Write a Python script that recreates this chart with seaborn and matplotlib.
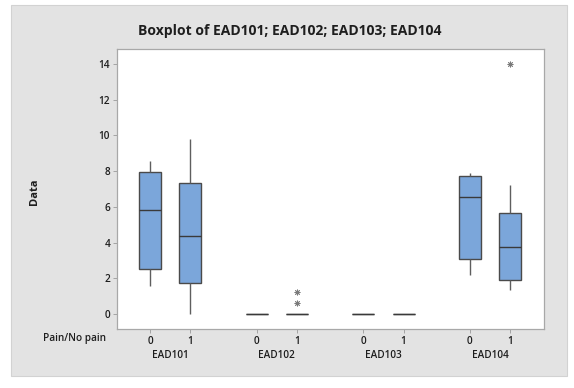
import matplotlib
matplotlib.use("Agg")
import matplotlib.pyplot as plt
from matplotlib.patches import Rectangle
import numpy as np
import pandas as pd
import seaborn as sns

# Measurements and pain groups
variables = ["EAD101", "EAD102", "EAD103", "EAD104"]
pain_levels = [0, 1]

# Five-number summaries for each box, ordered variable by variable, group 0 then 1
whisker_low = [1.55, 0.00, 0.0, 0.0, 0.0, 0.0, 2.17, 1.35]
q1 = [2.52, 1.75, 0.0, 0.0, 0.0, 0.0, 3.07, 1.91]
median = [5.82, 4.35, 0.0, 0.0, 0.0, 0.0, 6.57, 3.77]
q3 = [7.98, 7.35, 0.0, 0.0, 0.0, 0.0, 7.73, 5.64]
whisker_high = [8.58, 9.80, 0.0, 0.0, 0.0, 0.0, 7.88, 7.23]

# Outlying observations: (variable, pain group, value)
outlier_var = ["EAD102", "EAD102", "EAD104"]
outlier_pain = [1, 1, 1]
outlier_value = [0.60, 1.25, 14.0]

group_gap = 2.64  # spacing between variable blocks on the x axis


def xpos(var, pain):
    return variables.index(var) * group_gap + pain


rows = []
i = 0
for var in variables:
    for p in pain_levels:
        for v in (whisker_low[i], q1[i], median[i], q3[i], whisker_high[i]):
            rows.append({"variable": var, "pain": p, "x": xpos(var, p), "value": v})
        i += 1
df = pd.DataFrame(rows)
out_df = pd.DataFrame({
    "x": [xpos(v, p) for v, p in zip(outlier_var, outlier_pain)],
    "value": outlier_value,
})

sns.set_theme(style="white")
plt.rcParams["font.family"] = ["Open Sans", "DejaVu Sans"]

fig = plt.figure(figsize=(5.74, 3.88), dpi=100, facecolor="white")
fig.patches.append(Rectangle((11 / 574, 1 - 376 / 388), 556 / 574, 371 / 388,
                             transform=fig.transFigure, facecolor="#E3E3E3",
                             edgecolor="#D2D2D2", linewidth=0.8, zorder=-10))

ax = fig.add_axes([117 / 574, 1 - 329 / 388, 427 / 574, 280 / 388])
ax.set_facecolor("white")

edge = "#4A4A4A"
sns.boxplot(data=df, x="x", y="value", native_scale=True, width=0.545,
            color="#7BA6DA", saturation=1, linecolor=edge, linewidth=1.0,
            showfliers=False, whis=10, ax=ax,
            whiskerprops=dict(color="#5E5E5E", linewidth=1.0),
            capprops=dict(linewidth=0),
            medianprops=dict(color="#3A3A3A", linewidth=1.0))

sns.scatterplot(data=out_df, x="x", y="value", marker=(8, 2, 0), s=14,
                color="#7A7A7A", linewidth=0.6, edgecolor="#7A7A7A", ax=ax,
                legend=False, zorder=5)

ax.set_xlim(-0.82, 3 * group_gap + 1 + 0.84)
ax.set_ylim(-0.84, 14.84)
ax.set_yticks([0, 2, 4, 6, 8, 10, 12, 14])
ax.set_yticklabels([str(t) for t in [0, 2, 4, 6, 8, 10, 12, 14]])

xt = [xpos(v, p) for v in variables for p in pain_levels]
ax.set_xticks(xt)
ax.set_xticklabels([str(p) for v in variables for p in pain_levels])
ax.set_xlabel("")
ax.set_ylabel("")

ax.tick_params(axis="both", which="both", length=3, width=0.6, color="#9A9A9A",
               labelsize=7.2, labelcolor="#1E1E1E", pad=2, direction="out",
               bottom=True, left=True)
for lab in ax.get_xticklabels() + ax.get_yticklabels():
    lab.set_fontweight(600)
for s in ax.spines.values():
    s.set_color("#A8A8A8")
    s.set_linewidth(0.9)

# Variable names beneath each pair of ticks
for v in variables:
    cx = xpos(v, 0) + 0.5
    ax.text(cx, -0.094, v, transform=ax.get_xaxis_transform(), ha="center",
            va="center", fontsize=7.2, fontweight=600, color="#1E1E1E")

fig.text(74.5 / 574, 1 - 339 / 388, "Pain/No pain", ha="center", va="center",
         fontsize=7.2, fontweight=600, color="#1E1E1E")
fig.text(35 / 574, 1 - 192 / 388, "Data", ha="center", va="center",
         rotation=90, fontsize=8, fontweight="bold", color="#1E1E1E")
fig.text(290 / 574, 1 - 31 / 388, "Boxplot of EAD101; EAD102; EAD103; EAD104",
         ha="center", va="center", fontsize=10, fontweight="bold", color="#1E1E1E")

fig.savefig("out.png", dpi=100, facecolor="white")
